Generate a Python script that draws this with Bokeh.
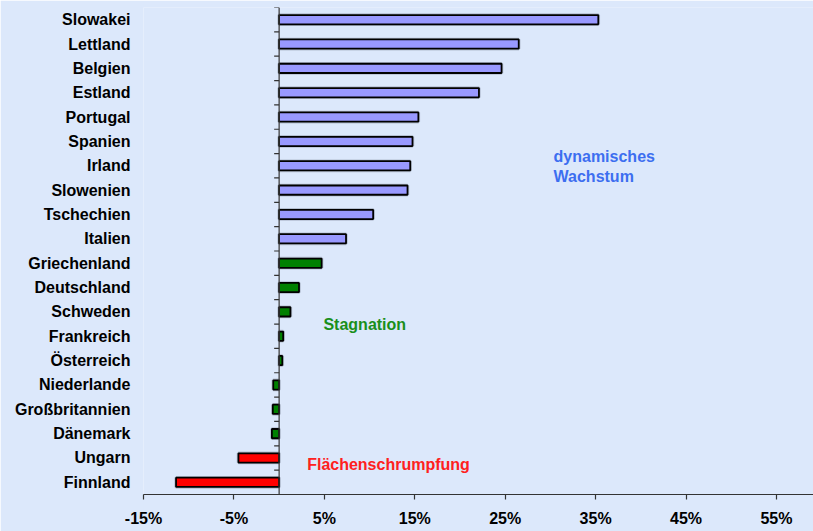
from bokeh.plotting import figure
from bokeh.models import Range1d, FixedTicker, LinearAxis, Span
from bokeh.core.properties import value
from bokeh.embed import file_html
from bokeh.resources import INLINE

# Data (bottom to top)
countries = ["Finnland", "Ungarn", "Dänemark", "Großbritannien", "Niederlande",
             "Österreich", "Frankreich", "Schweden", "Deutschland", "Griechenland",
             "Italien", "Tschechien", "Slowenien", "Irland", "Spanien",
             "Portugal", "Estland", "Belgien", "Lettland", "Slowakei"]
changes = [-11.4, -4.5, -0.8, -0.7, -0.65,
           0.35, 0.45, 1.25, 2.2, 4.7,
           7.4, 10.4, 14.2, 14.5, 14.75,
           15.4, 22.1, 24.6, 26.5, 35.3]
groups = ["shrink", "shrink", "stag", "stag", "stag",
          "stag", "stag", "stag", "stag", "stag",
          "grow", "grow", "grow", "grow", "grow",
          "grow", "grow", "grow", "grow", "grow"]
x_ticks = [-15, -5, 5, 15, 25, 35, 45, 55]
x_tick_labels = ["-15%", "-5%", "5%", "15%", "25%", "35%", "45%", "55%"]

group_colors = {"grow": "#9999ff", "stag": "#008000", "shrink": "#ff0000"}
BG = "#dce8fb"
FONT = "Liberation Sans"

ypos = list(range(len(countries)))
colors = [group_colors[g] for g in groups]

p = figure(width=813, height=531, output_backend="svg", toolbar_location=None,
           x_range=Range1d(-15, 59.1), y_range=Range1d(-0.5, len(countries) - 0.5),
           min_border_left=143, min_border_right=0, min_border_top=7, min_border_bottom=37,
           background_fill_color=BG, border_fill_color=BG, outline_line_color=None,
           x_axis_location=None, y_axis_location=None)
p.xgrid.visible = False
p.ygrid.visible = False

# subtle bar shadows
p.hbar(y=ypos, left=0, right=changes, height=0.38, fill_color=None,
       line_color="#9aa3b5", line_width=3.5, line_alpha=0.6)
# bars
p.hbar(y=ypos, left=0, right=changes, height=0.38, fill_color=colors,
       line_color="black", line_width=1.8)

# vertical axis at zero with boundary ticks
p.add_layout(Span(location=0, dimension="height", line_color="#333333", line_width=1.2))
bounds = [i + 0.5 for i in range(-1, len(countries))]
p.segment(x0=[-0.55] * len(bounds), x1=[0] * len(bounds), y0=bounds, y1=bounds,
          line_color="#333333", line_width=1.2)

# bottom axis
xa = LinearAxis(ticker=FixedTicker(ticks=x_ticks),
                major_label_overrides={t: l for t, l in zip(x_ticks, x_tick_labels)})
xa.axis_line_color = "#333333"
xa.axis_line_width = 1.2
xa.major_tick_line_color = "#333333"
xa.major_tick_line_width = 1.2
xa.major_tick_in = 0
xa.major_tick_out = 5
xa.minor_tick_line_color = None
xa.major_label_standoff = 10
xa.major_label_text_font = FONT
xa.major_label_text_font_style = "bold"
xa.major_label_text_font_size = "16px"
xa.major_label_text_color = "black"
p.add_layout(xa, "below")

# left category labels
ya = LinearAxis(ticker=FixedTicker(ticks=ypos),
                major_label_overrides={i: c for i, c in zip(ypos, countries)})
ya.axis_line_color = None
ya.major_tick_line_color = None
ya.minor_tick_line_color = None
ya.major_tick_in = 0
ya.major_tick_out = 0
ya.major_label_standoff = 13
ya.major_label_text_font = FONT
ya.major_label_text_font_style = "bold"
ya.major_label_text_font_size = "16px"
ya.major_label_text_color = "black"
p.add_layout(ya, "left")

# annotations
p.text(x=[30.35, 30.35], y=[13.37, 12.55], text=["dynamisches", "Wachstum"],
       text_color="#3c6ef0", text_font=value(FONT), text_font_style="bold",
       text_font_size="16px", text_baseline="middle", text_align="left")
p.text(x=[4.9], y=[6.48], text=["Stagnation"],
       text_color="#1a8f1a", text_font=value(FONT), text_font_style="bold",
       text_font_size="16px", text_baseline="middle", text_align="left")
p.text(x=[3.1], y=[0.73], text=["Flächenschrumpfung"],
       text_color="#ff2020", text_font=value(FONT), text_font_style="bold",
       text_font_size="16px", text_baseline="middle", text_align="left")

open("out.html", "w").write(file_html(p, INLINE))
